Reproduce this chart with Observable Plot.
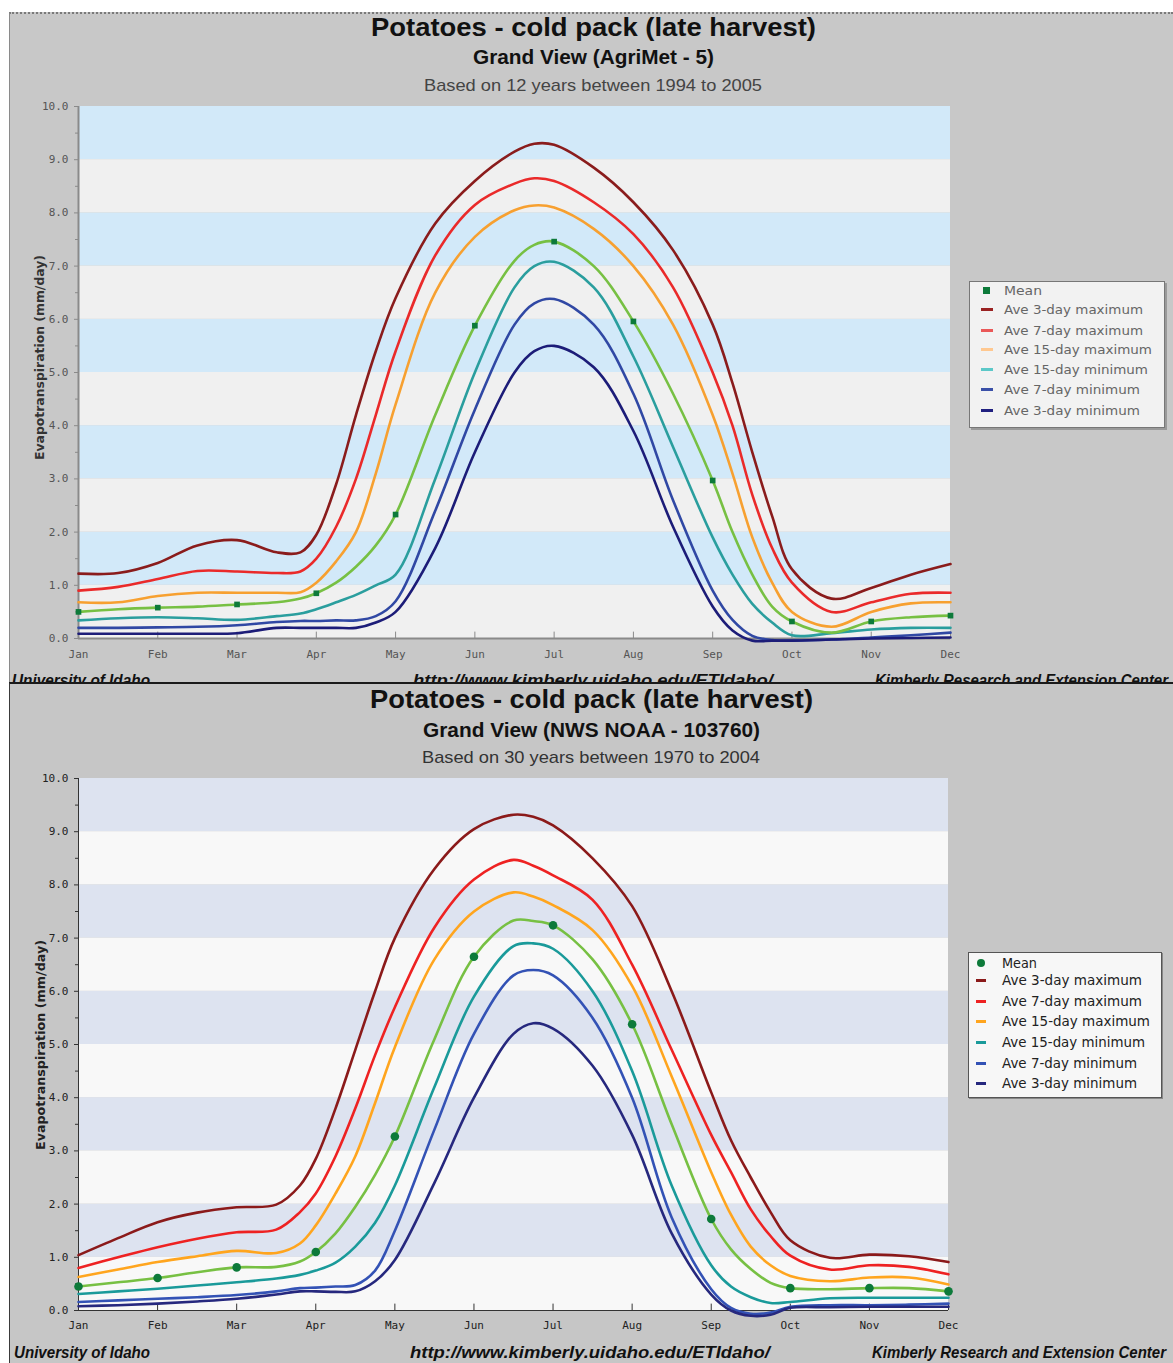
<!DOCTYPE html>
<html><head><meta charset="utf-8">
<script src="https://cdn.jsdelivr.net/npm/d3@7"></script>
<script src="https://cdn.jsdelivr.net/npm/@observablehq/plot@0.6"></script>
<style>
body{margin:0;background:#fff;}
#root{position:relative;width:1173px;height:1363px;overflow:hidden;background:#fff;}
.abs{position:absolute;}
</style></head><body><div id="root"></div>
<script>
// ---------- shared categories / ticks ----------
const months = ["Jan","Feb","Mar","Apr","May","Jun","Jul","Aug","Sep","Oct","Nov","Dec"];
const monthIdx = d3.range(12);
const yTicks = d3.range(0, 11);
const yMinor = d3.range(0.5, 10, 1);
const bandStarts = d3.range(0, 10);
const seriesNames = ["Ave 3-day maximum","Ave 7-day maximum","Ave 15-day maximum","Ave 15-day minimum","Ave 7-day minimum","Ave 3-day minimum"];
// sample positions (months from Jan)
const grid = [0,0.5,1,1.5,2,2.5,2.8,3,3.25,3.5,3.75,4,4.5,5,5.5,5.75,6,6.5,7,7.5,8,8.25,8.5,8.75,9,9.5,10,10.5,11];

// ---------- top chart: Grand View (AgriMet - 5) ----------
const agriMean  = [0.5,0.55,0.58,0.6,0.64,0.68,0.75,0.85,1.05,1.35,1.75,2.33,4.2,5.88,7.1,7.4,7.46,7.0,5.96,4.6,2.97,2.0,1.2,0.6,0.32,0.11,0.32,0.4,0.43];
const agri3max  = [1.22,1.23,1.42,1.75,1.85,1.62,1.62,1.95,2.9,4.2,5.4,6.4,7.8,8.6,9.15,9.3,9.28,8.85,8.2,7.3,5.9,4.8,3.5,2.3,1.3,0.75,0.95,1.2,1.4];
const agri7max  = [0.9,0.97,1.12,1.27,1.26,1.23,1.26,1.5,2.1,3.0,4.2,5.4,7.2,8.15,8.55,8.65,8.6,8.2,7.6,6.6,5.0,4.0,2.7,1.7,1.05,0.5,0.68,0.84,0.86];
const agri15max = [0.68,0.68,0.8,0.86,0.86,0.86,0.87,1.05,1.45,2.0,3.1,4.4,6.5,7.55,8.05,8.14,8.1,7.7,7.0,5.9,4.2,3.1,1.9,1.05,0.5,0.22,0.5,0.66,0.68];
const agri15min = [0.34,0.38,0.4,0.38,0.35,0.42,0.47,0.55,0.68,0.82,1.0,1.2,3.0,5.0,6.6,7.0,7.08,6.6,5.3,3.6,1.9,1.2,0.65,0.3,0.06,0.1,0.17,0.2,0.2];
const agri7min  = [0.2,0.2,0.21,0.22,0.25,0.31,0.33,0.33,0.34,0.34,0.42,0.7,2.4,4.3,5.9,6.3,6.38,5.9,4.6,2.6,0.9,0.35,0.05,-0.03,-0.04,-0.02,0.02,0.06,0.11];
const agri3min  = [0.09,0.09,0.09,0.09,0.1,0.2,0.2,0.2,0.2,0.2,0.3,0.5,1.7,3.5,5.0,5.4,5.5,5.1,3.9,2.1,0.6,0.15,-0.04,-0.04,-0.04,-0.02,0.0,0.01,0.02];

// ---------- bottom chart: Grand View (NWS NOAA - 103760) ----------
const nwsMean  = [0.45,0.53,0.61,0.72,0.81,0.82,0.92,1.1,1.45,1.95,2.55,3.27,5.1,6.65,7.33,7.32,7.24,6.6,5.38,3.5,1.72,1.15,0.78,0.52,0.42,0.40,0.42,0.42,0.36];
const nws3max  = [1.04,1.36,1.66,1.84,1.94,1.99,2.35,2.85,3.8,4.9,6.0,7.0,8.3,9.05,9.32,9.28,9.12,8.5,7.6,6.0,4.1,3.2,2.5,1.85,1.32,0.99,1.05,1.02,0.91];
const nws7max  = [0.80,1.0,1.19,1.35,1.47,1.52,1.85,2.2,2.9,3.8,4.8,5.7,7.2,8.1,8.47,8.36,8.18,7.72,6.5,4.9,3.3,2.6,1.9,1.4,1.03,0.77,0.85,0.82,0.68];
const nws15max = [0.63,0.77,0.91,1.02,1.12,1.08,1.26,1.6,2.2,2.9,3.9,4.95,6.6,7.5,7.86,7.78,7.62,7.15,6.1,4.4,2.6,1.8,1.2,0.85,0.65,0.55,0.62,0.62,0.49];
const nws15min = [0.31,0.36,0.41,0.47,0.53,0.60,0.67,0.75,0.9,1.2,1.65,2.35,4.2,5.9,6.85,6.9,6.8,6.0,4.5,2.35,0.85,0.45,0.25,0.14,0.16,0.23,0.24,0.24,0.24];
const nws7min  = [0.16,0.19,0.22,0.25,0.29,0.36,0.42,0.43,0.45,0.48,0.75,1.5,3.4,5.2,6.3,6.4,6.3,5.5,4.0,1.75,0.4,0.05,-0.06,-0.04,0.07,0.1,0.1,0.11,0.13];
const nws3min  = [0.08,0.10,0.13,0.17,0.22,0.30,0.36,0.36,0.35,0.36,0.55,0.95,2.4,4.0,5.2,5.4,5.3,4.6,3.3,1.45,0.3,0.0,-0.1,-0.08,0.05,0.06,0.07,0.07,0.07];

const topColors    = ["#8a1c1c","#ea2a2a","#f7a030","#2a9e9e","#3048a4","#1c1c78"];
const topLegendCol = ["#9a2222","#ea5858","#ffc890","#5cc8c8","#3a50a8","#202080"];
const bottomColors = ["#8b1a1a","#ee2222","#ffa51e","#1a9a9a","#3352b5","#26287e"];
const meanLineColor = "#77c043";
const meanDotColor = "#0d7a3a";

const root = document.getElementById("root");
const NS = "http://www.w3.org/2000/svg";

function div(style) {
  const d = document.createElement("div");
  d.className = "abs";
  Object.assign(d.style, style);
  root.appendChild(d);
  return d;
}
function layer() {
  const s = document.createElementNS(NS, "svg");
  s.setAttribute("width", 1173); s.setAttribute("height", 1363);
  s.setAttribute("class", "abs");
  s.style.left = "0px"; s.style.top = "0px";
  root.appendChild(s);
  return s;
}
function fitText(svg, str, o) {
  const t = document.createElementNS(NS, "text");
  t.textContent = str;
  if (o.rotate) {
    t.setAttribute("transform", `translate(${o.x},${o.y2}) rotate(-90)`);
    t.setAttribute("x", 0); t.setAttribute("y", 0);
    t.setAttribute("textLength", o.y2 - o.y1);
  } else {
    t.setAttribute("x", o.x1); t.setAttribute("y", o.y);
    t.setAttribute("textLength", o.x2 - o.x1);
  }
  t.setAttribute("lengthAdjust", "spacingAndGlyphs");
  t.setAttribute("font-family", o.family || "Liberation Sans, Arial, sans-serif");
  t.setAttribute("font-size", o.size);
  t.setAttribute("font-weight", o.weight || "normal");
  t.setAttribute("font-style", o.style || "normal");
  t.setAttribute("fill", o.fill || "#111");
  svg.appendChild(t);
}

function chart(cfg) {
  const lines = cfg.series.map((vals, i) =>
    Plot.line(vals, {x: grid, y: d => d, stroke: cfg.colors[i], strokeWidth: cfg.lineW, curve: "catmull-rom"}));
  const dotIdx = grid.map((t, i) => i).filter(i => Number.isInteger(grid[i]));
  return Plot.plot({
    width: 1173, height: cfg.height,
    marginLeft: 78, marginRight: cfg.marginRight, marginTop: cfg.marginTop, marginBottom: cfg.marginBottom,
    style: {background: "transparent", fontFamily: "DejaVu Sans Mono, monospace", fontSize: "11px", overflow: "visible"},
    x: {domain: [0, 11]},
    y: {domain: [0, 10]},
    marks: [
      Plot.rect(bandStarts.filter(b => b % 2 === 1), {y1: d => d, y2: d => d + 1, fill: cfg.bandOdd}),
      Plot.rect(bandStarts.filter(b => b % 2 === 0), {y1: d => d, y2: d => d + 1, fill: cfg.bandEven}),
      Plot.axisY({ticks: yTicks, tickFormat: d3.format(".1f"), tickSize: 4, tickPadding: 6, stroke: cfg.axis, fill: cfg.tickText, label: null}),
      Plot.axisY({ticks: yMinor, tickFormat: () => "", tickSize: 3, stroke: cfg.axis, label: null}),
      Plot.axisX({ticks: monthIdx, tickFormat: i => months[i], tickSize: 0, tickPadding: cfg.xPad, fill: cfg.tickText, label: null}),
      Plot.ruleX(monthIdx, {x: d => d, y1: 0, y2: 0.12, stroke: cfg.axis}),
      Plot.ruleX([0], {stroke: cfg.axis, strokeWidth: cfg.axisW}),
      Plot.ruleY([0], {stroke: cfg.axis, strokeWidth: cfg.axisW}),
      ...lines,
      Plot.line(cfg.mean, {x: grid, y: d => d, stroke: meanLineColor, strokeWidth: cfg.lineW, curve: "catmull-rom"}),
      Plot.dot(dotIdx, {x: i => grid[i], y: i => cfg.mean[i], r: cfg.dotR, symbol: cfg.dotSymbol, fill: meanDotColor, stroke: "none"})
    ]
  });
}

function legend(box, rows, colors, opt) {
  div({left: box.x + "px", top: box.y + "px", width: box.w + "px", height: box.h + "px",
       background: opt.bg, border: "1px solid " + opt.border, boxShadow: opt.shadow, boxSizing: "border-box"});
  if (opt.square) div({left: (opt.sx + 2) + "px", top: (rows[0] - 3.5) + "px", width: "7px", height: "7px", background: meanDotColor});
  else div({left: (opt.sx + 1) + "px", top: (rows[0] - 4) + "px", width: "8px", height: "8px", borderRadius: "50%", background: meanDotColor});
  colors.forEach((c, i) => div({left: opt.sx + "px", top: (rows[i + 1] - 1) + "px", width: opt.sw + "px", height: "2.5px", background: c}));
}

// ================= TOP PANEL =================
div({left: "9px", top: "12px", width: "1164px", height: "671px", background: "#c8c8c8",
     borderTop: "2px dotted #7a7a7a", borderLeft: "1px solid #8a8a8a", boxSizing: "border-box"});
const topWrap = div({left: "0px", top: "95px"});
topWrap.appendChild(chart({
  series: [agri3max, agri7max, agri15max, agri15min, agri7min, agri3min], mean: agriMean,
  colors: topColors, height: 575, marginTop: 11, marginBottom: 32, marginRight: 223,
  bandOdd: "#d2e9f9", bandEven: "#f0f0f0", axis: "#8a8a8a", axisW: 2, tickText: "#555", xPad: 12,
  lineW: 2.6, dotR: 3.2, dotSymbol: "square"
}));
legend({x: 969, y: 281, w: 196, h: 147}, [290, 309, 330, 349, 369, 389, 410], topLegendCol,
  {bg: "#f2f2f2", border: "#777", shadow: "2px 2px 0 #9a9a9a", sx: 981, sw: 12, square: true});
const topText = layer();
fitText(topText, "Potatoes - cold pack (late harvest)", {x1: 371, x2: 816, y: 36, size: 26, weight: "bold", fill: "#111"});
fitText(topText, "Grand View (AgriMet - 5)", {x1: 473, x2: 714, y: 64, size: 20, weight: "bold", fill: "#111"});
fitText(topText, "Based on 12 years between 1994 to 2005", {x1: 424, x2: 762, y: 91, size: 17, fill: "#444"});
fitText(topText, "Evapotranspiration (mm/day)", {rotate: true, x: 44, y1: 255, y2: 460, size: 12.5, weight: "bold", family: "DejaVu Sans, sans-serif", fill: "#333"});
["Mean", ...seriesNames].forEach((s, i) => {
  const rows = [290, 309, 330, 349, 369, 389, 410];
  const ends = [1042, 1143, 1143, 1152, 1148, 1140, 1140];
  fitText(topText, s, {x1: 1004, x2: ends[i], y: rows[i] + 4.5, size: 12.5, family: "DejaVu Sans, sans-serif", fill: "#666"});
});
fitText(topText, "University of Idaho", {x1: 12, x2: 150, y: 686, size: 16, weight: "bold", style: "italic"});
fitText(topText, "http://www.kimberly.uidaho.edu/ETIdaho/", {x1: 413, x2: 773, y: 686, size: 16, weight: "bold", style: "italic"});
fitText(topText, "Kimberly Research and Extension Center", {x1: 875, x2: 1168, y: 686, size: 16, weight: "bold", style: "italic"});

// ================= BOTTOM PANEL =================
div({left: "9px", top: "682px", width: "1164px", height: "681px", background: "#c6c6c6",
     borderTop: "2px solid #1a1a1a", borderLeft: "1px solid #3a3a3a", boxSizing: "border-box"});
const botWrap = div({left: "0px", top: "770px"});
botWrap.appendChild(chart({
  series: [nws3max, nws7max, nws15max, nws15min, nws7min, nws3min], mean: nwsMean,
  colors: bottomColors, height: 572, marginTop: 8, marginBottom: 32, marginRight: 225,
  bandOdd: "#dde3f0", bandEven: "#f8f8f8", axis: "#333", axisW: 1, tickText: "#222", xPad: 11,
  lineW: 2.6, dotR: 4.3, dotSymbol: "circle"
}));
legend({x: 968, y: 952, w: 194, h: 146}, [963, 980, 1001, 1021, 1042, 1063, 1083], bottomColors,
  {bg: "#f7f7f7", border: "#555", shadow: "1px 1px 0 #888", sx: 976, sw: 10, square: false});
const botText = layer();
fitText(botText, "Potatoes - cold pack (late harvest)", {x1: 370, x2: 813, y: 708, size: 26, weight: "bold", fill: "#111"});
fitText(botText, "Grand View (NWS NOAA - 103760)", {x1: 423, x2: 760, y: 737, size: 20, weight: "bold", fill: "#111"});
fitText(botText, "Based on 30 years between 1970 to 2004", {x1: 422, x2: 760, y: 763, size: 17, fill: "#333"});
fitText(botText, "Evapotranspiration (mm/day)", {rotate: true, x: 45, y1: 940, y2: 1150, size: 12.5, weight: "bold", family: "DejaVu Sans, sans-serif", fill: "#222"});
["Mean", ...seriesNames].forEach((s, i) => {
  const rows = [963, 980, 1001, 1021, 1042, 1063, 1083];
  const ends = [1037, 1142, 1142, 1150, 1145, 1137, 1137];
  fitText(botText, s, {x1: 1002, x2: ends[i], y: rows[i] + 5, size: 14, family: "DejaVu Sans, sans-serif", fill: "#222"});
});
fitText(botText, "University of Idaho", {x1: 14, x2: 150, y: 1358, size: 16, weight: "bold", style: "italic"});
fitText(botText, "http://www.kimberly.uidaho.edu/ETIdaho/", {x1: 410, x2: 770, y: 1358, size: 16, weight: "bold", style: "italic"});
fitText(botText, "Kimberly Research and Extension Center", {x1: 872, x2: 1166, y: 1358, size: 16, weight: "bold", style: "italic"});
</script>
</body></html>
